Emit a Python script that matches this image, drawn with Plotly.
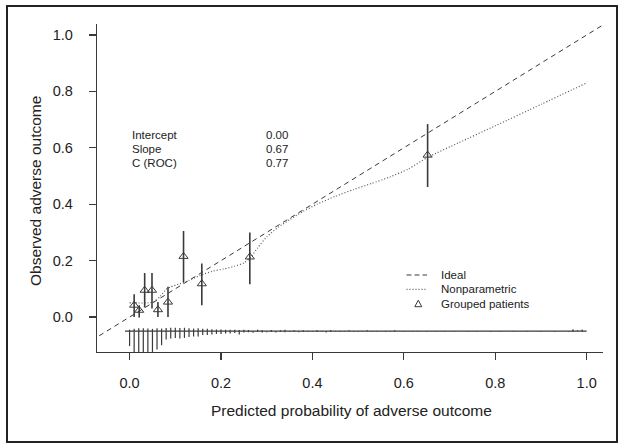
import plotly.graph_objects as go

# ---------------- data ----------------
# grouped patients (deciles): predicted, observed, CI
group_pred = [0.010, 0.021, 0.033, 0.049, 0.062, 0.084, 0.118, 0.158, 0.263, 0.652]
group_obs = [0.042, 0.024, 0.095, 0.095, 0.026, 0.053, 0.215, 0.118, 0.213, 0.574]
group_lo = [0.000, -0.002, 0.034, 0.030, 0.000, 0.000, 0.124, 0.042, 0.116, 0.461]
group_hi = [0.081, 0.042, 0.156, 0.156, 0.053, 0.107, 0.305, 0.190, 0.300, 0.684]

# nonparametric (lowess) calibration curve
np_x = [0.0, 0.02, 0.04, 0.055, 0.068, 0.08, 0.09, 0.11, 0.13, 0.155, 0.18, 0.205, 0.23,
        0.25, 0.265, 0.28, 0.30, 0.325, 0.35, 0.38, 0.41, 0.45, 0.49, 0.53, 0.57, 0.61,
        0.652, 0.72, 0.80, 0.90, 1.0]
np_y = [0.05, 0.05, 0.05, 0.056, 0.075, 0.098, 0.107, 0.118, 0.13, 0.148, 0.162, 0.17, 0.18,
        0.192, 0.212, 0.245, 0.284, 0.318, 0.345, 0.375, 0.40, 0.428, 0.452, 0.474, 0.497, 0.525,
        0.566, 0.618, 0.678, 0.754, 0.83]

# ideal line end points
ideal_x = [-0.1, 1.1]
ideal_y = [-0.1, 1.1]

# risk distribution: bins of predicted probability (0.00 .. 0.99)
bins = [i / 100 for i in range(100)]
# relative frequency, non-events (spikes downward)
freq0 = [0.53, 0.85, 1.00, 0.95, 0.90, 0.80, 0.65, 0.50, 0.30, 0.26,
         0.24, 0.26, 0.24, 0.21, 0.19, 0.19, 0.14, 0.14, 0.12, 0.10,
         0.10, 0.085, 0.085, 0.07, 0.12, 0.05, 0.04, 0.06, 0.03, 0.05,
         0.04, 0.03, 0.05, 0.03, 0.04, 0.03, 0.02, 0.04, 0.03, 0.03,
         0.02, 0.03, 0.02, 0.05, 0.02, 0.02, 0.03, 0.02, 0.00, 0.02,
         0.03, 0.02, 0.00, 0.02, 0.02, 0.00, 0.03, 0.02, 0.02, 0.00,
         0.02, 0.00, 0.02, 0.02, 0.00, 0.02, 0.00, 0.02, 0.00, 0.02,
         0.00, 0.02, 0.00, 0.00, 0.02, 0.00, 0.02, 0.00, 0.00, 0.02,
         0.00, 0.02, 0.00, 0.00, 0.02, 0.00, 0.00, 0.02, 0.00, 0.00,
         0.02, 0.00, 0.00, 0.02, 0.00, 0.00, 0.02, 0.03, 0.00, 0.02]
# relative frequency, events (spikes upward)
freq1 = [0.05, 0.08, 0.10, 0.10, 0.09, 0.08, 0.10, 0.09, 0.11, 0.12,
         0.12, 0.11, 0.12, 0.10, 0.09, 0.10, 0.08, 0.08, 0.07, 0.06,
         0.06, 0.05, 0.05, 0.05, 0.04, 0.05, 0.04, 0.00, 0.05, 0.03,
         0.00, 0.04, 0.00, 0.03, 0.05, 0.00, 0.03, 0.00, 0.03, 0.00,
         0.00, 0.03, 0.00, 0.00, 0.04, 0.00, 0.00, 0.00, 0.03, 0.00,
         0.00, 0.00, 0.03, 0.00, 0.00, 0.00, 0.00, 0.00, 0.03, 0.00,
         0.00, 0.00, 0.00, 0.00, 0.00, 0.00, 0.00, 0.00, 0.00, 0.00,
         0.00, 0.00, 0.00, 0.00, 0.00, 0.00, 0.00, 0.00, 0.00, 0.00,
         0.00, 0.00, 0.00, 0.00, 0.00, 0.00, 0.00, 0.00, 0.00, 0.00,
         0.00, 0.00, 0.00, 0.00, 0.00, 0.00, 0.00, 0.07, 0.03, 0.06]

stat_labels = ["Intercept", "Slope", "C (ROC)"]
stat_values = ["0.00", "0.67", "0.77"]

legend_labels = ["Ideal", "Nonparametric", "Grouped patients"]

tick_vals = [0.0, 0.2, 0.4, 0.6, 0.8, 1.0]
tick_text = ["0.0", "0.2", "0.4", "0.6", "0.8", "1.0"]

# ---------------- layout constants ----------------
W, H = 619, 445
ML, MR, MT, MB = 97, 16, 24, 93
PW, PH = W - ML - MR, H - MT - MB
FONT = "Liberation Sans, Arial, Helvetica, sans-serif"
INK = "#222222"
LINE = "#3a3a3a"
LINE_BASE = -0.05
SPIKE_LEN = 0.1


def px(xp):
    return (xp - ML) / PW


def py(yp):
    return (H - MB - yp) / PH


fig = go.Figure()

# ideal line
fig.add_trace(go.Scatter(x=ideal_x, y=ideal_y, mode="lines",
                         line=dict(color=LINE, width=1, dash="5px,4px"),
                         hoverinfo="skip", showlegend=False))

# nonparametric line
fig.add_trace(go.Scatter(x=np_x, y=np_y, mode="lines",
                         line=dict(color="#555555", width=1.2, dash="1px,2px",
                                   shape="spline", smoothing=0.6),
                         hoverinfo="skip", showlegend=False))

# grouped patients with CI
fig.add_trace(go.Scatter(
    x=group_pred, y=group_obs, mode="markers",
    marker=dict(symbol="triangle-up-open", size=8, color=LINE, line=dict(width=1, color=LINE)),
    error_y=dict(type="data", symmetric=False,
                 array=[h - o for h, o in zip(group_hi, group_obs)],
                 arrayminus=[o - l for o, l in zip(group_obs, group_lo)],
                 width=0, thickness=1.6, color=LINE),
    hoverinfo="skip", showlegend=False))

# risk distribution spikes
sx0, sy0, sx1, sy1 = [], [], [], []
for b, f0, f1 in zip(bins, freq0, freq1):
    if f0 > 0:
        sx0 += [b, b, None]
        sy0 += [LINE_BASE, LINE_BASE - SPIKE_LEN * f0, None]
    if f1 > 0:
        sx1 += [b, b, None]
        sy1 += [LINE_BASE, LINE_BASE + SPIKE_LEN * f1, None]
fig.add_trace(go.Scatter(x=sx0, y=sy0, mode="lines", line=dict(color=LINE, width=1.2),
                         hoverinfo="skip", showlegend=False))
fig.add_trace(go.Scatter(x=sx1, y=sy1, mode="lines", line=dict(color=LINE, width=1.2),
                         hoverinfo="skip", showlegend=False))
fig.add_trace(go.Scatter(x=[min(bins) - 0.01, max(bins) + 0.01], y=[LINE_BASE, LINE_BASE],
                         mode="lines", line=dict(color=LINE, width=1.2),
                         hoverinfo="skip", showlegend=False))

annotations = []
# statistics text
for i, (lab, val) in enumerate(zip(stat_labels, stat_values)):
    yy = 0.647 - i * 0.0505
    annotations.append(dict(x=0.0, y=yy, xref="x", yref="y", text=lab, showarrow=False,
                            xanchor="left", yanchor="middle",
                            font=dict(family=FONT, size=11.5, color=INK)))
    annotations.append(dict(x=0.295, y=yy, xref="x", yref="y", text=val, showarrow=False,
                            xanchor="left", yanchor="middle",
                            font=dict(family=FONT, size=11.5, color=INK)))

# legend (drawn manually)
leg_rows = [275, 289.3, 303.7]
shapes = []
shapes.append(dict(type="line", xref="paper", yref="paper",
                   x0=px(406.5), x1=px(427), y0=py(leg_rows[0]), y1=py(leg_rows[0]),
                   line=dict(color=LINE, width=1, dash="5px,3px")))
shapes.append(dict(type="line", xref="paper", yref="paper",
                   x0=px(406.5), x1=px(427), y0=py(leg_rows[1]), y1=py(leg_rows[1]),
                   line=dict(color="#555555", width=1.2, dash="1px,2px")))
tcx, tcy = 418.3, leg_rows[2]
shapes.append(dict(type="path", xref="paper", yref="paper",
                   path="M {},{} L {},{} L {},{} Z".format(
                       px(tcx - 3.5), py(tcy + 3), px(tcx + 3.5), py(tcy + 3), px(tcx), py(tcy - 3.5)),
                   line=dict(color=LINE, width=1)))
for lab, yr in zip(legend_labels, leg_rows):
    annotations.append(dict(x=px(438.5), y=py(yr), xref="paper", yref="paper", text=lab,
                            showarrow=False, xanchor="left", yanchor="middle",
                            font=dict(family=FONT, size=11.5, color=INK)))

# outer frame
shapes.append(dict(type="rect", xref="paper", yref="paper",
                   x0=px(7), x1=px(617), y0=py(442), y1=py(6),
                   line=dict(color="#222222", width=2), fillcolor="rgba(0,0,0,0)", layer="above"))

# axis titles
annotations.append(dict(x=px(351), y=py(410), xref="paper", yref="paper",
                        text="Predicted probability of adverse outcome", showarrow=False,
                        xanchor="center", yanchor="middle",
                        font=dict(family=FONT, size=15.5, color=INK)))
annotations.append(dict(x=px(35), y=py(191), xref="paper", yref="paper",
                        text="Observed adverse outcome", showarrow=False, textangle=-90,
                        xanchor="center", yanchor="middle",
                        font=dict(family=FONT, size=15.5, color=INK)))

axis_common = dict(showgrid=False, zeroline=False, showline=True, linecolor=LINE, linewidth=1.2,
                   ticks="outside", ticklen=7, tickwidth=1.2, tickcolor=LINE,
                   tickvals=tick_vals, ticktext=tick_text,
                   tickfont=dict(family=FONT, size=14.5, color=INK), mirror=False)

fig.update_layout(
    width=W, height=H,
    margin=dict(l=ML, r=MR, t=MT, b=MB, pad=0),
    paper_bgcolor="white", plot_bgcolor="white",
    xaxis=dict(range=[-0.0713, 1.0357], ticklabelstandoff=10, **axis_common),
    yaxis=dict(range=[-0.124, 1.039], ticklabelstandoff=13, **axis_common),
    annotations=annotations, shapes=shapes, showlegend=False,
)

fig.write_html("out.html",
               config={"displayModeBar": False, "staticPlot": True},
               post_script="document.body.style.margin='0px';document.body.style.overflow='hidden';")
